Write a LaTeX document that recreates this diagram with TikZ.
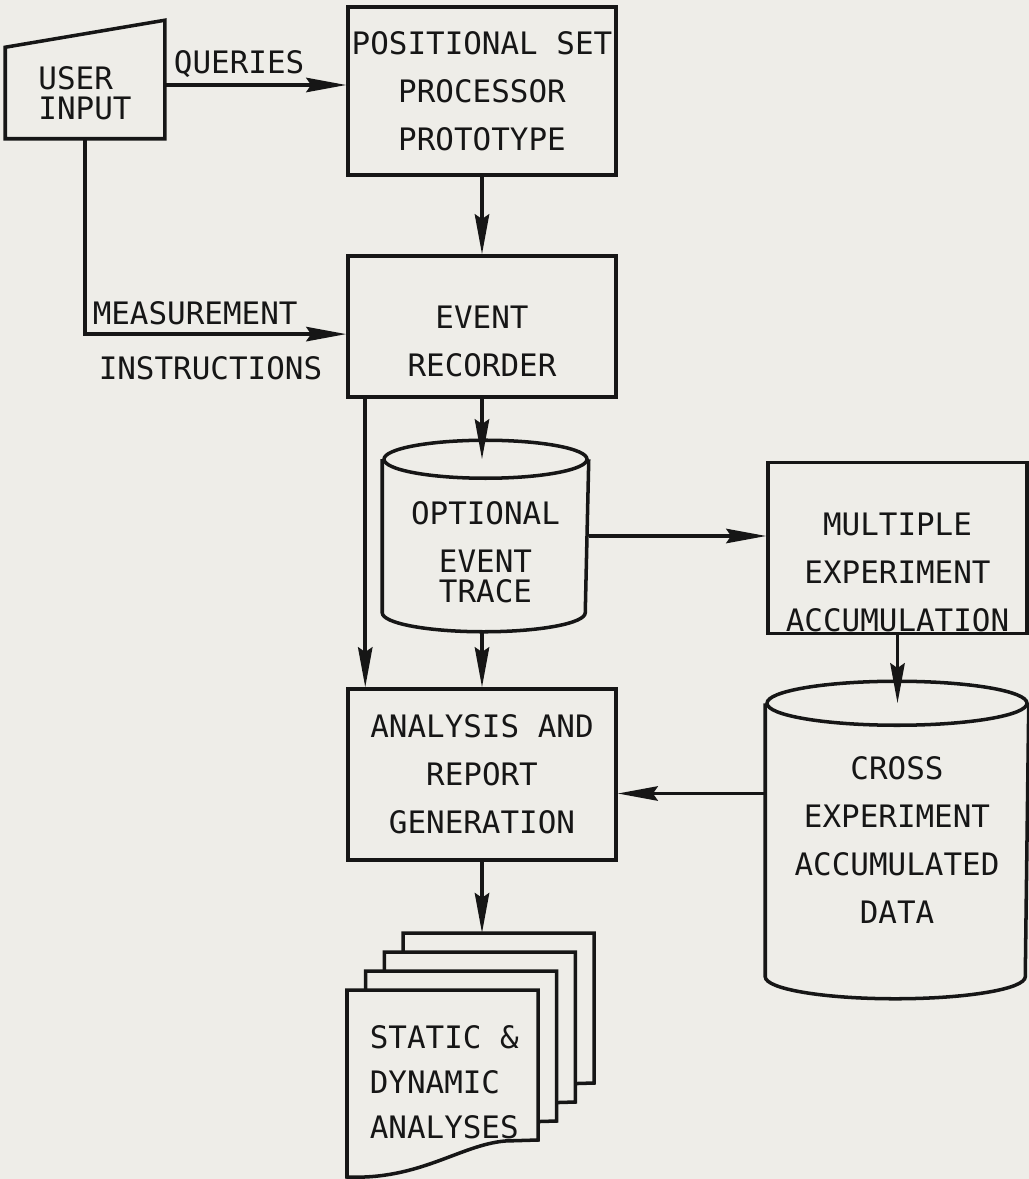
\documentclass[tikz,border=0pt]{standalone}
\usepackage{fontspec}
\newfontfamily\plotfont{DejaVu Sans Mono}
\usetikzlibrary{arrows.meta, calc, backgrounds}
\definecolor{paper}{RGB}{238,237,232}
\definecolor{ink}{RGB}{22,22,22}
\tikzset{every picture/.append style={line width=2.5pt}}
\tikzset{sheet/.pic={
    \draw[draw=ink, line width=2.5pt, fill=paper] (0,0) -- (4.775,0) -- (4.775,-3.75) -- (3.95,-3.775)
        .. controls (2.825,-3.875) and (1.825,-4.75) .. (0,-4.675) -- cycle;
}}
% outline of a drum store round a text node
\newcommand{\drumline}[3]{%
    \draw (#1.north west) -- (#1.south west)
        arc[start angle=180, end angle=360, x radius=#2, y radius=#3] -- (#1.north east);
    \draw (#1.north) ellipse[x radius=#2, y radius=#3];
}

\begin{document}
\begin{tikzpicture}[color=ink,
    font=\plotfont\fontsize{22}{34}\selectfont,
    box/.style={draw, align=center, inner sep=1pt},
    drum/.style={align=center, inner sep=1pt},
    lbl/.style={inner sep=0pt},
    flow/.style={-{Stealth[length=10mm, width=3.6mm, inset=1.2mm]}}]

    % Page
    \begin{scope}[on background layer]
        \fill[paper] (0,0) rectangle (25.725,-29.475);
    \end{scope}
    \useasboundingbox (0,0) rectangle (25.725,-29.475);

    % Input
    \node[align=left, inner sep=1pt, minimum width=3.9cm, minimum height=2.2cm,
          font=\plotfont\fontsize{22}{21}\selectfont] (user) at (2.125,-2.325) {USER\\INPUT};
    \draw (user.south west) -- (user.north west) -- ([yshift=0.675cm]user.north east)
        -- (user.south east) -- cycle;

    % Main column
    \node[box, minimum width=6.7cm, minimum height=4.2cm] (proc) at (12.05,-2.275)
        {POSITIONAL SET\\PROCESSOR\\PROTOTYPE};
    \node[box, minimum width=6.7cm, minimum height=3.525cm] (rec) at (12.05,-8.1625)
        {\rule{0pt}{37pt}EVENT\\RECORDER};
    \node[drum, minimum width=5.075cm, minimum height=3.75cm,
          font=\plotfont\fontsize{22}{21}\selectfont] (trace) at (12.1375,-13.4)
        {\rule{0pt}{39pt}OPTIONAL\\[0.475cm]EVENT\\TRACE};
    \drumline{trace}{2.5375cm}{0.475cm}
    \node[box, minimum width=6.7cm, minimum height=4.275cm] (anal) at (12.05,-19.3625)
        {ANALYSIS AND\\REPORT\\GENERATION};

    % Right column
    \node[box, minimum width=6.475cm, minimum height=4.25cm] (multi) at (22.4375,-13.7)
        {\rule{0pt}{51pt}MULTIPLE\\EXPERIMENT\\ACCUMULATION};
    \node[drum, minimum width=6.5cm, minimum height=6.75cm] (cross) at (22.425,-21.0)
        {CROSS\\EXPERIMENT\\ACCUMULATED\\DATA};
    \drumline{cross}{3.25cm}{0.55cm}

    % Output stack
    \node[align=left, inner sep=1pt, minimum width=4.775cm, minimum height=4.5cm,
          anchor=north west, font=\plotfont\fontsize{22}{32}\selectfont] (docs) at (8.675,-24.75)
        {STATIC \&\\DYNAMIC\\ANALYSES};
    \begin{scope}[on background layer]
        \foreach \k in {3,2,1,0}
            \pic at ($(docs.north west)+(\k*0.4675,\k*0.475)$) {sheet};
    \end{scope}
    \coordinate (stacktop) at ($(docs.north)+(0,1.425)$);

    % Flows
    \draw[flow] ($(user.east)+(0,0.2)$) -- ($(user.east -| proc.west)+(0,0.2)$)
        node[lbl, pos=0.41, above=0.15cm] (qry) {QUERIES};
    \draw[flow] (proc.south) -- (rec.north);
    \draw[flow] (user.south) |- ($(rec.west)+(0,-0.19)$) coordinate[pos=0.5] (mbend);
    \node[lbl, anchor=south west] (meas) at ($(mbend)+(0.15,0.18)$) {MEASUREMENT};
    \node[lbl, anchor=north west] (instr) at ($(mbend)+(0.3,-0.52)$) {INSTRUCTIONS};
    \draw[flow] (rec.south) -- (rec.south |- trace.north);
    \coordinate (tap) at ([xshift=0.475cm]rec.south west);
    \draw[flow] (tap) -- (tap |- anal.north);
    \draw[flow] ($(anal.north |- trace.south)+(0,-0.475)$) -- (anal.north);
    \draw[flow] (trace.east) -- (trace.east -| multi.west);
    \draw[flow] (multi.south) -- (multi.south |- cross.north);
    \draw[flow] ($(cross.west |- anal.east)+(0,-0.475)$) -- ($(anal.east)+(0,-0.475)$);
    \draw[flow] (anal.south) -- (anal.south |- stacktop);
\end{tikzpicture}
\end{document}
